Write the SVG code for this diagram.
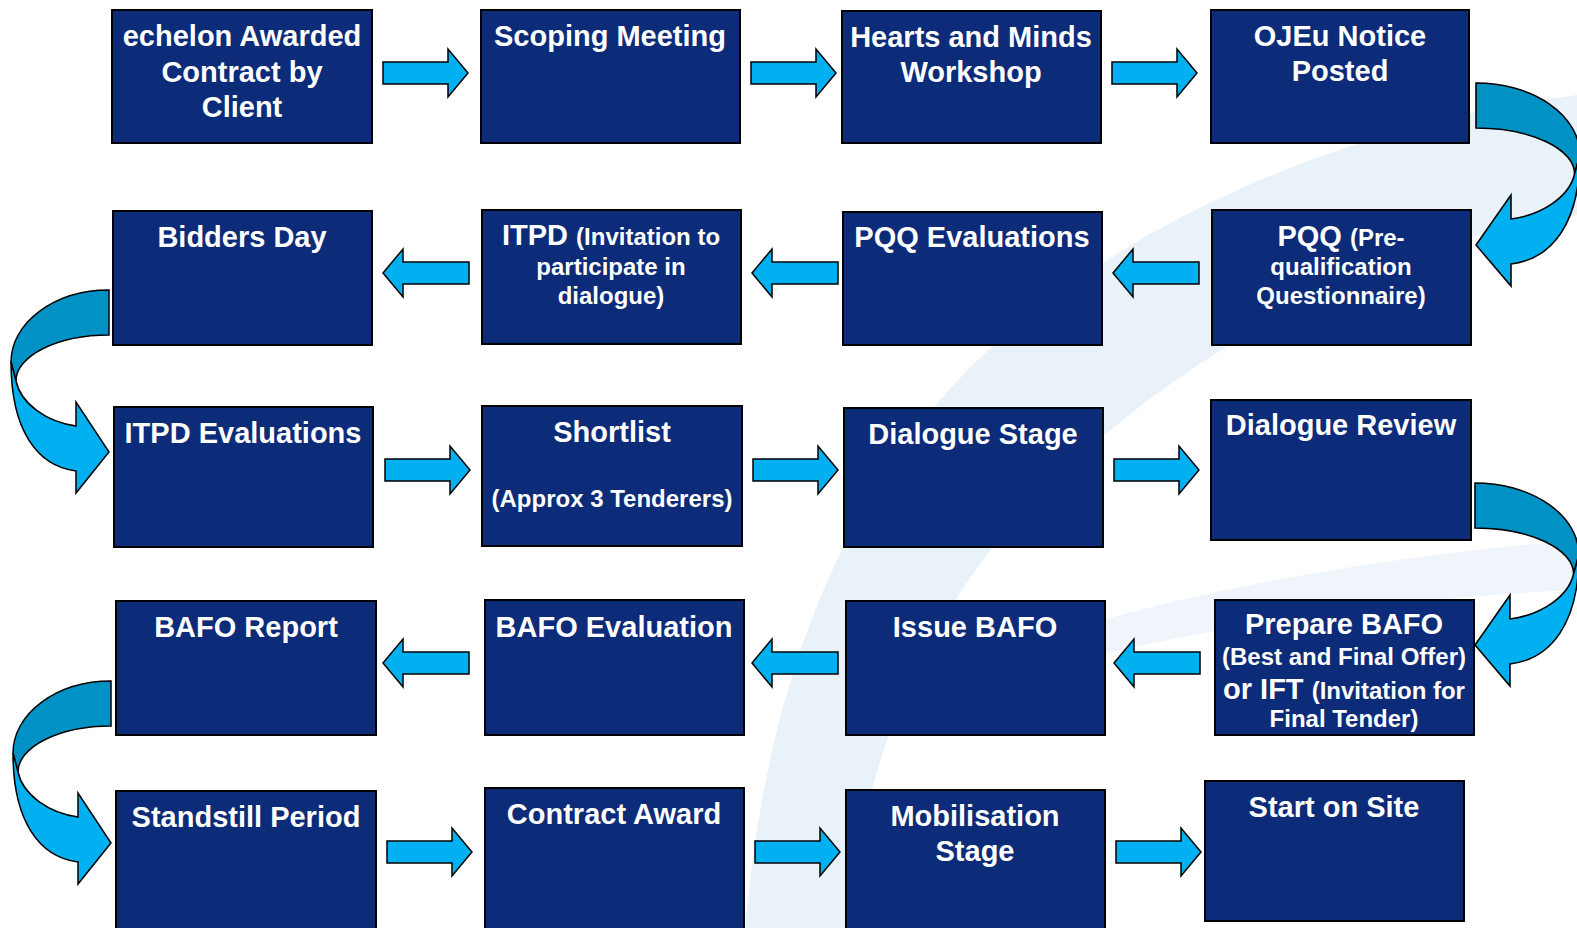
<svg xmlns="http://www.w3.org/2000/svg" xmlns:xlink="http://www.w3.org/1999/xlink" width="1577" height="928" viewBox="0 0 1577 928">
<style>
.box{fill:#0c2b78;stroke:#000;stroke-width:2}
.t{font-family:"Liberation Sans",Arial,sans-serif;font-weight:bold;fill:#fff;font-size:29px;text-anchor:middle}
.s{font-size:24px}
.arr{fill:#00b0f0;stroke:#000;stroke-width:1.5;stroke-linejoin:miter}
.cdark{fill:#0092c4;stroke:#000;stroke-width:1.5}
.clight{fill:#00b0f0;stroke:#000;stroke-width:1.5}
</style>
<defs>
<path id="ar" d="M0,-11 H65 V-24 L85,0 L65,24 V11 H0 Z"/>
<path id="al" d="M0,0 L20,-24 V-11 H86 V11 H20 V24 Z"/>
<g id="curve">
<path class="cdark" d="M0,0 A98,72 0 0 0 -98,72 L-93,91 A93,46 0 0 1 0,45 Z"/>
<path class="clight" d="M-98,72 C-98,140 -72,176 -33,181 L-33,203 L0,162 L-33,112 L-33,136 C-62,132 -88,114 -93,91 Z"/>
</g>
</defs>
<rect width="1577" height="928" fill="#fff"/>
<g id="background">
<path fill="#e9f1f9" d="M1577,95 C1300,130 1060,260 940,400 C830,530 765,700 745,928 L850,928 C860,760 925,625 1015,520 C1125,400 1330,250 1577,215 Z"/>
<path fill="#f0f5fb" d="M880,700 C1100,600 1350,560 1577,540 L1577,590 C1350,600 1100,640 880,720 Z"/>
</g>
<g id="connectors">
<use href="#ar" class="arr" transform="translate(383,73)"/>
<use href="#ar" class="arr" transform="translate(751,73)"/>
<use href="#ar" class="arr" transform="translate(1112,73)"/>
<use href="#al" class="arr" transform="translate(383,273)"/>
<use href="#al" class="arr" transform="translate(752,273)"/>
<use href="#al" class="arr" transform="translate(1113,273)"/>
<use href="#ar" class="arr" transform="translate(385,470)"/>
<use href="#ar" class="arr" transform="translate(753,470)"/>
<use href="#ar" class="arr" transform="translate(1114,470)"/>
<use href="#al" class="arr" transform="translate(383,663)"/>
<use href="#al" class="arr" transform="translate(752,663)"/>
<use href="#al" class="arr" transform="translate(1114,663)"/>
<use href="#ar" class="arr" transform="translate(387,852)"/>
<use href="#ar" class="arr" transform="translate(755,852)"/>
<use href="#ar" class="arr" transform="translate(1116,852)"/>
<use href="#curve" transform="translate(1476,83) scale(-1.06,1)"/>
<use href="#curve" transform="translate(109,290)"/>
<use href="#curve" transform="translate(1475,483) scale(-1.06,1)"/>
<use href="#curve" transform="translate(111,681)"/>
</g>
<g id="n1"><rect class="box" x="112" y="10" width="260" height="133"/><text class="t" x="242" y="46">echelon Awarded</text><text class="t" x="242" y="82">Contract by</text><text class="t" x="242" y="117">Client</text></g>
<g id="n2"><rect class="box" x="481" y="10" width="259" height="133"/><text class="t" x="610" y="46">Scoping Meeting</text></g>
<g id="n3"><rect class="box" x="842" y="11" width="259" height="132"/><text class="t" x="971" y="47">Hearts and Minds</text><text class="t" x="971" y="82">Workshop</text></g>
<g id="n4"><rect class="box" x="1211" y="10" width="258" height="133"/><text class="t" x="1340" y="46">OJEu Notice</text><text class="t" x="1340" y="81">Posted</text></g>
<g id="n5"><rect class="box" x="113" y="211" width="259" height="134"/><text class="t" x="242" y="247">Bidders Day</text></g>
<g id="n6"><rect class="box" x="482" y="210" width="259" height="134"/><text class="t" x="611" y="245">ITPD <tspan class="s">(Invitation to</tspan></text><text class="t s" x="611" y="275">participate in</text><text class="t s" x="611" y="304">dialogue)</text></g>
<g id="n7"><rect class="box" x="843" y="212" width="259" height="133"/><text class="t" x="972" y="247">PQQ Evaluations</text></g>
<g id="n8"><rect class="box" x="1212" y="210" width="259" height="135"/><text class="t" x="1341" y="246">PQQ <tspan class="s">(Pre-</tspan></text><text class="t s" x="1341" y="275">qualification</text><text class="t s" x="1341" y="304">Questionnaire)</text></g>
<g id="n9"><rect class="box" x="114" y="407" width="259" height="140"/><text class="t" x="243" y="443">ITPD Evaluations</text></g>
<g id="n10"><rect class="box" x="482" y="406" width="260" height="140"/><text class="t" x="612" y="442">Shortlist</text><text class="t s" x="612" y="507">(Approx 3 Tenderers)</text></g>
<g id="n11"><rect class="box" x="844" y="408" width="259" height="139"/><text class="t" x="973" y="444">Dialogue Stage</text></g>
<g id="n12"><rect class="box" x="1211" y="400" width="260" height="140"/><text class="t" x="1341" y="435">Dialogue Review</text></g>
<g id="n13"><rect class="box" x="116" y="601" width="260" height="134"/><text class="t" x="246" y="637">BAFO Report</text></g>
<g id="n14"><rect class="box" x="485" y="600" width="259" height="135"/><text class="t" x="614" y="637">BAFO Evaluation</text></g>
<g id="n15"><rect class="box" x="846" y="601" width="259" height="134"/><text class="t" x="975" y="637">Issue BAFO</text></g>
<g id="n16"><rect class="box" x="1215" y="600" width="259" height="135"/><text class="t" x="1344" y="634">Prepare BAFO</text><text class="t s" x="1344" y="665">(Best and Final Offer)</text><text class="t" x="1344" y="699">or IFT <tspan class="s">(Invitation for</tspan></text><text class="t s" x="1344" y="727">Final Tender)</text></g>
<g id="n17"><rect class="box" x="116" y="791" width="260" height="140"/><text class="t" x="246" y="827">Standstill Period</text></g>
<g id="n18"><rect class="box" x="485" y="788" width="259" height="143"/><text class="t" x="614" y="824">Contract Award</text></g>
<g id="n19"><rect class="box" x="846" y="790" width="259" height="141"/><text class="t" x="975" y="826">Mobilisation</text><text class="t" x="975" y="861">Stage</text></g>
<g id="n20"><rect class="box" x="1205" y="781" width="259" height="140"/><text class="t" x="1334" y="817">Start on Site</text></g>
</svg>
